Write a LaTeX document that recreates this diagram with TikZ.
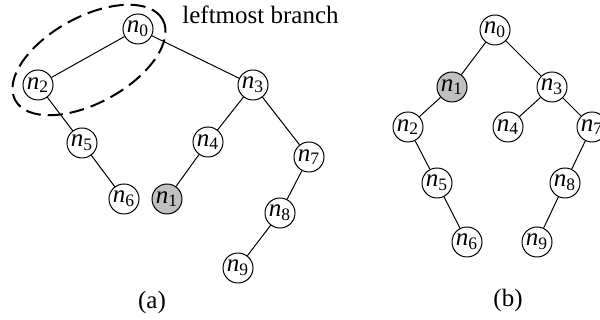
\documentclass[tikz,border=0pt]{standalone}
\usepackage{fontspec}
\setmainfont{Liberation Serif}
\usetikzlibrary{positioning}
\definecolor{visitGray}{RGB}{192,192,192}
\newcommand{\nv}[1]{{\itshape n}\textsubscript{#1}}

\begin{document}
\begin{tikzpicture}[x=0.5pt,y=0.5pt,font=\fontsize{12.5}{15}\selectfont,
  v/.style={draw,circle,inner sep=0pt,minimum size=15pt,fill=white,line width=0.5pt},
  cur/.style={v,fill=visitGray},
  ln/.style={line width=0.5pt},
  br/.style={line width=1pt,dash pattern=on 7.5pt off 3.5pt}
]
  \useasboundingbox (0,0) rectangle (600,320);
  % tree (a)
  \node[v] (a0) at (138,291) {\nv{0}};
  \node[v] (a2) at (38,235) {\nv{2}};
  \node[v] (a3) at (253,235) {\nv{3}};
  \node[v] (a5) at (82,177) {\nv{5}};
  \node[v] (a4) at (208,178) {\nv{4}};
  \node[v] (a7) at (309,163) {\nv{7}};
  \node[v] (a6) at (124,121) {\nv{6}};
  \node[cur] (a1) at (167,121) {\nv{1}};
  \node[v] (a8) at (280,107) {\nv{8}};
  \node[v] (a9) at (238,52) {\nv{9}};
  \draw[ln] (a0) -- (a2);
  \draw[ln] (a0) -- (a3);
  \draw[ln] (a2) -- (a5);
  \draw[ln] (a5) -- (a6);
  \draw[ln] (a3) -- (a4);
  \draw[ln] (a4) -- (a1);
  \draw[ln] (a3) -- (a7);
  \draw[ln] (a7) -- (a8);
  \draw[ln] (a8) -- (a9);
  \draw[br,rotate around={28.7:(89,260)}] (89,260) ellipse [x radius=42pt,y radius=21.5pt];
  \node[anchor=west,inner sep=0pt] (lmb) at (182,305) {leftmost branch};
  \node (capa) at (152,18) {(a)};
  % tree (b)
  \node[v] (b0) at (495,290) {\nv{0}};
  \node[cur] (b1) at (452,233) {\nv{1}};
  \node[v] (b3) at (552,233) {\nv{3}};
  \node[v] (b2) at (408,193) {\nv{2}};
  \node[v] (b4) at (508,193) {\nv{4}};
  \node[v] (b7) at (592,193) {\nv{7}};
  \node[v] (b5) at (437,137) {\nv{5}};
  \node[v] (b8) at (565,137) {\nv{8}};
  \node[v] (b6) at (467,78) {\nv{6}};
  \node[v] (b9) at (537,78) {\nv{9}};
  \draw[ln] (b0) -- (b1);
  \draw[ln] (b0) -- (b3);
  \draw[ln] (b1) -- (b2);
  \draw[ln] (b2) -- (b5);
  \draw[ln] (b5) -- (b6);
  \draw[ln] (b3) -- (b4);
  \draw[ln] (b3) -- (b7);
  \draw[ln] (b7) -- (b8);
  \draw[ln] (b8) -- (b9);
  \node (capb) at (508,20) {(b)};
\end{tikzpicture}
\end{document}
